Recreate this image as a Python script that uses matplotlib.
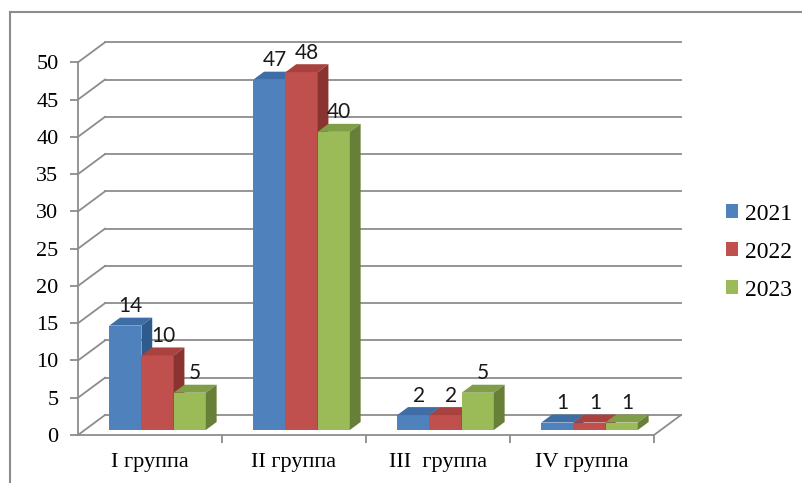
import numpy as np
import matplotlib as mpl
import matplotlib.pyplot as plt
from matplotlib.patches import Polygon, Patch
from matplotlib.lines import Line2D

mpl.rcParams['font.family'] = ['Liberation Serif', 'DejaVu Serif']

# data
groups = ["I группа", "II группа", "III  группа", "IV группа"]
years = ["2021", "2022", "2023"]
val_2021 = [14, 47, 2, 1]
val_2022 = [10, 48, 2, 1]
val_2023 = [5, 40, 5, 1]
series = [val_2021, val_2022, val_2023]

front_colors = ['#4F81BD', '#C0504D', '#9BBB59']
top_colors = ['#3F6EA6', '#A9423F', '#809D47']
side_colors = ['#2F5A8C', '#8A3432', '#677F37']
grid_color = '#8C8C8C'

fig = plt.figure(figsize=(8.02, 4.83), dpi=100)
ax = fig.add_axes([78 / 802, 48 / 483, 576 / 802, 372.7 / 483])
ax.set_xlim(0, 4)
ax.set_ylim(0, 50)

# 3d depth offset of the walls (in data units)
DX = 27 / 144
DY = 20 / 7.454
D0 = 0.25     # front of bars (fraction of depth)
DD = 0.40     # bar depth
bar_w = 0.2236
gap_left = 0.17

# walls / gridlines
yt = np.arange(0, 51, 5)
for v in yt:
    ax.plot([0, DX], [v, v + DY], color=grid_color, lw=1.3, clip_on=False, zorder=1)
    ax.plot([DX, 4 + DX], [v + DY, v + DY], color=grid_color, lw=1.3, clip_on=False, zorder=1)
ax.plot([4, 4 + DX], [0, DY], color=grid_color, lw=1.3, clip_on=False, zorder=1)

# bars
for i in range(len(groups)):
    for j, vals in enumerate(series):
        v = vals[i]
        x0 = i + gap_left + j * bar_w + DX * D0
        y0 = DY * D0
        ddx, ddy = DX * DD, DY * DD
        front = Polygon([(x0, y0), (x0 + bar_w, y0), (x0 + bar_w, y0 + v), (x0, y0 + v)],
                        closed=True, facecolor=front_colors[j], edgecolor='none', clip_on=False, zorder=3)
        top = Polygon([(x0, y0 + v), (x0 + bar_w, y0 + v), (x0 + bar_w + ddx, y0 + v + ddy), (x0 + ddx, y0 + v + ddy)],
                      closed=True, facecolor=top_colors[j], edgecolor='none', clip_on=False, zorder=3)
        side = Polygon([(x0 + bar_w, y0), (x0 + bar_w, y0 + v), (x0 + bar_w + ddx, y0 + v + ddy), (x0 + bar_w + ddx, y0 + ddy)],
                       closed=True, facecolor=side_colors[j], edgecolor='none', clip_on=False, zorder=3)
        ax.add_patch(front)
        ax.add_patch(top)
        ax.add_patch(side)
        ax.annotate(str(v), (x0 + bar_w / 2 + ddx / 2, y0 + v + ddy), xytext=(0, 1),
                    textcoords='offset points', ha='center', va='bottom',
                    fontsize=15, family=['Lato', 'DejaVu Sans'], color='#1a1a1a', zorder=5)

# axes
for s in ['top', 'right']:
    ax.spines[s].set_visible(False)
for s in ['left', 'bottom']:
    ax.spines[s].set_color(grid_color)
    ax.spines[s].set_linewidth(1.3)
ax.set_yticks(yt)
ax.tick_params(axis='y', length=6, width=1.3, color=grid_color, pad=8, labelsize=16)
ax.set_xticks(np.arange(4) + 0.5)
ax.set_xticklabels(groups)
ax.set_xticks([1, 2, 3, 4], minor=True)
ax.tick_params(axis='x', which='major', length=0, pad=13, labelsize=16)
ax.tick_params(axis='x', which='minor', length=6, width=1.3, color=grid_color)
ax.patch.set_visible(False)

# legend
handles = [Patch(facecolor=c, edgecolor='none') for c in front_colors]
fig.legend(handles, years, loc='center left', bbox_to_anchor=(726 / 802, 1 - 252 / 483),
           frameon=False, fontsize=17, handlelength=0.5, handleheight=0.5,
           handletextpad=0.3, labelspacing=0.72, borderpad=0.0, borderaxespad=0.0)

# outer border of the chart
fig.add_artist(Line2D([10 / 802, 1], [1 - 12 / 483, 1 - 12 / 483], color='#8C8C8C', lw=1.5))
fig.add_artist(Line2D([10 / 802, 10 / 802], [0, 1 - 12 / 483], color='#8C8C8C', lw=1.5))

fig.savefig("out.png", dpi=100)
plt.close(fig)
